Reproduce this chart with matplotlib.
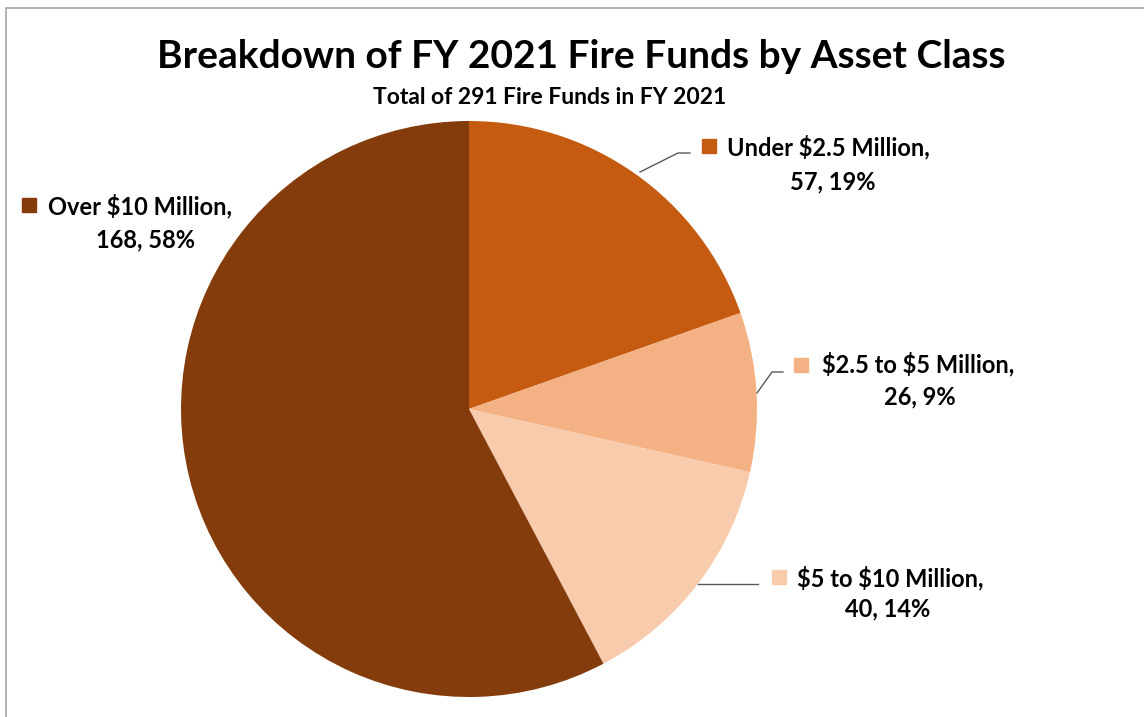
import matplotlib.pyplot as plt
from matplotlib.patches import Rectangle

categories = ['Under $2.5 Million', '$2.5 to $5 Million', '$5 to $10 Million', 'Over $10 Million']
counts = [57, 26, 40, 168]
percents = [19, 9, 14, 58]
colors = ['#C55A11', '#F4B183', '#F8CBAD', '#843C0C']

W, H = 1144, 717
cx, cy, R = 469, 409, 288

plt.rcParams['font.family'] = ['Lato', 'DejaVu Sans']

fig = plt.figure(figsize=(W / 100, H / 100), dpi=100)
# chart frame: only top and left edges fall inside the image
fig.patches.append(Rectangle((6 / W, -0.01), 1.05, 1 - 8 / H + 0.01,
                             transform=fig.transFigure, fill=False,
                             edgecolor='#a6a6a6', linewidth=1.2))

ax = fig.add_axes([(cx - R) / W, (H - cy - R) / H, 2 * R / W, 2 * R / H])
ax.pie(counts, colors=colors, startangle=90, counterclock=False, radius=1,
       wedgeprops=dict(linewidth=0))
ax.set_xlim(-1, 1)
ax.set_ylim(-1, 1)
ax.set_aspect('equal')
ax.axis('off')


def d(px, py):
    return (px - cx) / R, (cy - py) / R


# label anchors (pixel positions): key square, first line left, second line centre
label_pos = [
    ((709, 146), (727, 147), (833, 182)),
    ((801, 365), (822, 364), (920, 397)),
    ((779, 577), (797, 578), (888, 609)),
    ((29, 205), (48, 206), (145, 240)),
]
leaders = [
    [(640, 172), (678, 153), (690, 153)],
    [(757, 393), (772, 372), (783, 372)],
    [(698, 584), (758, 584)],
    None,
]

for cat, n, p, col, pos, lead in zip(categories, counts, percents, colors, label_pos, leaders):
    sq, l1, l2 = pos
    ax.plot(*d(*sq), marker='s', markersize=10, color=col, clip_on=False)
    ax.text(*d(*l1), cat + ',', ha='left', va='center', fontsize=17,
            fontweight='bold', clip_on=False, parse_math=False)
    ax.text(*d(*l2), f'{n}, {p}%', ha='center', va='center', fontsize=17,
            fontweight='bold', clip_on=False, parse_math=False)
    if lead:
        xs, ys = zip(*[d(*q) for q in lead])
        ax.plot(xs, ys, color='#595959', linewidth=1, clip_on=False)

fig.text(581 / W, 1 - 56 / H, 'Breakdown of FY 2021 Fire Funds by Asset Class',
         ha='center', va='center', fontsize=28, fontweight='bold')
fig.text(550 / W, 1 - 98 / H, 'Total of 291 Fire Funds in FY 2021',
         ha='center', va='center', fontsize=16.5, fontweight='bold')

fig.savefig('out.png', dpi=100)
